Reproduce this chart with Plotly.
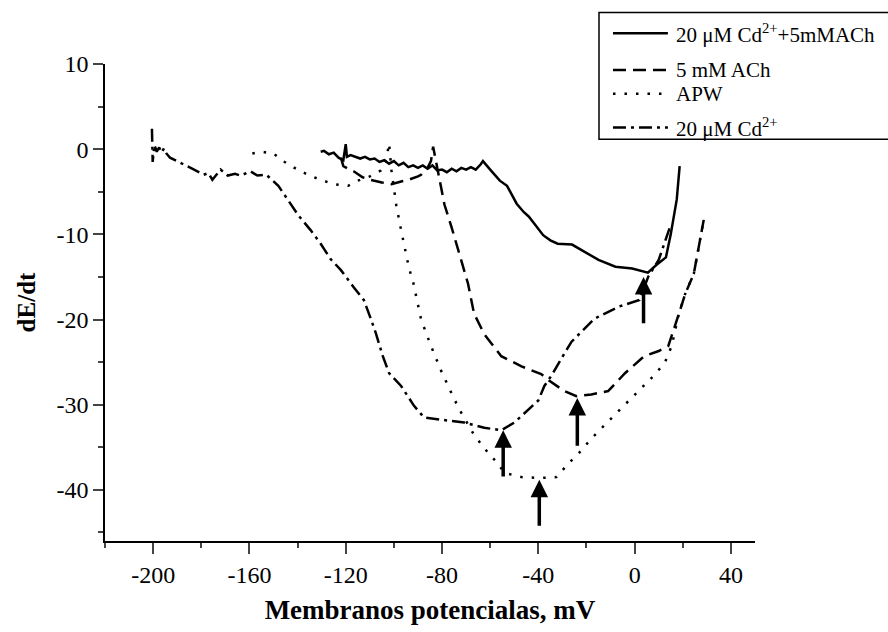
import plotly.graph_objects as go

# ---------------- data ----------------
series_names = ["20 μM Cd<sup>2+</sup>+5mMACh", "5 mM ACh", "APW", "20 μM Cd<sup>2+</sup>"]

cdach_x = [-130.4, -129, -127, -125, -123, -121, -120, -119.5, -118, -116, -114, -112, -110, -108,
           -106, -104, -102, -100, -98, -96, -94, -92, -90, -88, -86, -84, -82, -80, -78, -76, -74,
           -72, -70, -68, -66, -64, -63, -60, -58, -56, -53, -51, -49, -46, -44, -41, -38, -35, -32,
           -26, -20, -15, -8, -1, 5.5, 9, 13, 15, 17.5, 18.7]
cdach_y = [-0.3, -0.2, -0.6, -0.4, -1.0, -1.3, 0.6, -0.9, -0.7, -0.9, -1.1, -0.9, -1.2, -1.1,
           -1.5, -1.3, -1.7, -1.4, -1.9, -1.6, -2.1, -1.9, -2.2, -1.9, -2.3, -1.9, -2.5, -2.4, -2.7,
           -2.3, -2.6, -2.2, -2.4, -2.1, -2.4, -1.8, -1.4, -2.4, -3.1, -3.7, -4.3, -5.3, -6.4, -7.4,
           -7.9, -9.0, -10.1, -10.7, -11.1, -11.2, -12.2, -13.0, -13.8, -14.0, -14.5, -13.6, -12.7,
           -10.0, -5.9, -2.0]

ach_x = [-122, -121, -119, -116.7, -113, -109.6, -105, -101, -97, -94, -90, -88.7, -86, -84.6,
         -83.7, -82.5, -81, -79, -76, -72.9, -69.2, -66.7, -62.5, -55.4, -47, -38.8, -35.4, -29.2,
         -24.2, -18, -11, -4, 4, 10, 14, 18.3, 21, 24.6, 26.7, 28.7]
ach_y = [-1.0, -2.0, -2.3, -2.6, -3.3, -3.6, -3.9, -4.1, -3.8, -3.6, -3.2, -3.0, -2.2, -1.4,
         0.3, -1.5, -3.4, -6.5, -9.2, -12.3, -15.8, -19.3, -21.7, -24.3, -25.5, -26.4, -27.2, -28.4,
         -29.0, -28.8, -28.4, -26.3, -24.3, -23.7, -23.1, -19.4, -17.0, -14.6, -11.5, -8.3]

apw_x = [-158.8, -155, -150, -146, -140, -135, -130.4, -125, -119, -115, -110, -105.4, -103, -102,
         -101, -100.4, -99, -97, -95.8, -93.7, -92, -88.7, -84.6, -80.4, -76, -72.9, -67, -62.5,
         -57.5, -54, -47, -39.6, -32.5, -27.5, -22.9, -18, -12.5, -7.5, -2.5, 2.9, 7.9, 12.5, 15.4,
         18.3, 21, 24.6, 26.7, 28.7]
apw_y = [-0.5, -0.3, -0.5, -1.4, -2.4, -3.1, -3.6, -4.1, -4.3, -3.7, -3.2, -2.5, -1.0, 0.7,
         -2.5, -3.9, -6.6, -9.5, -11.2, -14.0, -15.6, -20.0, -23.1, -26.0, -28.7, -30.5, -33.4,
         -35.1, -36.7, -38.0, -38.5, -38.6, -38.5, -36.9, -35.6, -34.0, -32.4, -31.0, -29.5, -28.0,
         -26.6, -25.1, -23.1, -19.4, -17.0, -14.6, -11.5, -8.3]

cd_x = [-200.5, -200.2, -199.5, -198.5, -197.5, -196.5, -195.5, -194.5, -193, -190, -187.5, -183,
        -179, -177, -175.4, -172, -169, -166, -163.7, -159.6, -156.7, -153, -148, -144, -139.6,
        -134.6, -130.4, -126.3, -122, -116.7, -112.5, -109.6, -107.5, -104.6, -102, -97, -91.7,
        -87.5, -77.5, -70.8, -62.5, -55.4, -50, -40, -37.5, -34.6, -29.2, -26.2, -16.7, -6.7, 2,
        5.6, 10, 14.6]
cd_y = [2.4, -1.5, 0.5, -0.3, 0.2, -0.4, 0.1, -0.5, -1.0, -1.4, -1.8, -2.4, -3.0, -2.8, -3.6,
        -2.4, -3.1, -2.9, -3.1, -2.6, -3.1, -3.0, -4.3, -5.9, -7.8, -9.5, -11.1, -12.9, -14.2,
        -16.2, -17.7, -19.9, -21.6, -24.3, -26.3, -27.8, -30.1, -31.5, -31.9, -32.1, -32.7, -33.0,
        -32.1, -29.5, -27.8, -26.6, -24.0, -22.6, -19.9, -18.5, -17.7, -15.0, -13.0, -9.2]

# arrows: x position, head value, tail value
arrow_x = [-54.6, -39.6, -23.8, 3.7]
arrow_tip = [-33.0, -38.8, -29.2, -15.0]
arrow_tail = [-38.6, -44.4, -35.0, -20.6]

x_ticks = [-200, -160, -120, -80, -40, 0, 40]
x_ticktext = ["-200", "-160", "-120", "-80", "-40", "0", "40"]
y_ticks = [-40, -30, -20, -10, 0, 10]
y_ticktext = ["-40", "-30", "-20", "-10", "0", "10"]

# ---------------- figure ----------------
FONT = "Liberation Serif, Times New Roman, serif"
dashes = ["solid", "13px,7px", "2.5px,9px", "13px,5px,3px,5px"]
xs = [cdach_x, ach_x, apw_x, cd_x]
ys = [cdach_y, ach_y, apw_y, cd_y]

fig = go.Figure()
for name, x, y, d in zip(series_names, xs, ys, dashes):
    fig.add_trace(go.Scatter(x=x, y=y, mode="lines", name=name, showlegend=False,
                             line=dict(color="black", width=2.5, dash=d)))

for ax_, tip, tail in zip(arrow_x, arrow_tip, arrow_tail):
    fig.add_annotation(x=ax_, y=tip, ax=ax_, ay=tail, xref="x", yref="y", axref="x", ayref="y",
                       text="", showarrow=True, arrowhead=2, arrowsize=1.0, arrowwidth=3.5,
                       arrowcolor="black", standoff=0, startstandoff=0)

# custom legend (paper coordinates)
fig.add_shape(type="rect", xref="paper", yref="paper", x0=0.76, x1=1.215, y0=0.842, y1=1.108,
              line=dict(color="black", width=1.5), fillcolor="white", layer="above")
row_y = [1.0644, 0.9875, 0.9376, 0.867]
for name, d, ry in zip(series_names, dashes, row_y):
    fig.add_shape(type="line", xref="paper", yref="paper", x0=0.7815, x1=0.866, y0=ry, y1=ry,
                  line=dict(color="black", width=2.5, dash=d), layer="above")
    fig.add_annotation(x=0.876, y=ry, xref="paper", yref="paper", text=name, showarrow=False,
                       xanchor="left", yanchor="middle", font=dict(family=FONT, size=21, color="black"))

fig.update_layout(
    width=888, height=632,
    margin=dict(l=105, r=133, t=64, b=87),
    paper_bgcolor="white", plot_bgcolor="white",
    font=dict(family=FONT, size=22, color="black"),
    showlegend=False,
)
fig.update_xaxes(range=[-220, 50], tickvals=x_ticks, ticktext=x_ticktext, ticks="outside", ticklen=11,
                 tickwidth=1.5, showline=True, linecolor="black", linewidth=1.5, showgrid=False,
                 zeroline=False,
                 minor=dict(dtick=20, tick0=-200, ticks="outside", ticklen=5, tickwidth=1.5),
                 tickfont=dict(size=24),
                 title=dict(text="<b>Membranos potencialas, mV</b>", font=dict(size=27), standoff=14))
fig.update_yaxes(range=[-46, 10], tickvals=y_ticks, ticktext=y_ticktext, ticks="outside", ticklen=10,
                 tickwidth=1.5, showline=True, linecolor="black", linewidth=1.5, showgrid=False,
                 zeroline=False,
                 minor=dict(dtick=5, tick0=0, ticks="outside", ticklen=5, tickwidth=1.5),
                 tickfont=dict(size=24),
                 title=dict(text="<b>dE/dt</b>", font=dict(size=25), standoff=14))

fig.write_html("out.html")
